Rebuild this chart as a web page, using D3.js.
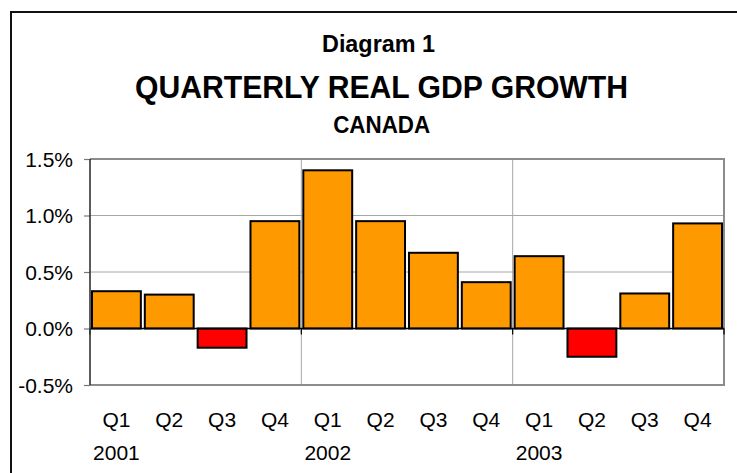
<!DOCTYPE html>
<html>
<head>
<meta charset="utf-8">
<script src="https://cdn.jsdelivr.net/npm/d3@7"></script>
<style>
  html, body { margin: 0; padding: 0; background: #fff; }
  svg { display: block; font-family: "Liberation Sans", Arial, sans-serif; }
</style>
</head>
<body>
<svg id="chart" width="737" height="473"></svg>
<script>
// ---- data ----
const quarters = ["Q1","Q2","Q3","Q4","Q1","Q2","Q3","Q4","Q1","Q2","Q3","Q4"];
const years = ["2001","2002","2003"];
const growth = [0.33, 0.30, -0.17, 0.95, 1.40, 0.95, 0.67, 0.41, 0.64, -0.25, 0.31, 0.93];
const yTicks = [-0.5, 0, 0.5, 1.0, 1.5];
const titleLines = ["Diagram 1", "QUARTERLY REAL GDP GROWTH", "CANADA"];

const svg = d3.select("#chart");
const plot = { left: 90, right: 724, top: 159, bottom: 385 };

// outer frame
svg.append("rect")
  .attr("x", 11).attr("y", 12).attr("width", 760).attr("height", 490)
  .attr("fill", "none").attr("stroke", "#111").attr("stroke-width", 2);

// titles
svg.append("text").attr("x", 378.5).attr("y", 51.7)
  .attr("text-anchor", "middle").attr("font-weight", "bold").attr("font-size", 23)
  .attr("textLength", 113).attr("lengthAdjust", "spacingAndGlyphs")
  .text(titleLines[0]);
svg.append("text").attr("x", 381.5).attr("y", 97.7)
  .attr("text-anchor", "middle").attr("font-weight", "bold").attr("font-size", 31)
  .attr("textLength", 493).attr("lengthAdjust", "spacingAndGlyphs")
  .text(titleLines[1]);
svg.append("text").attr("x", 381.7).attr("y", 133.3)
  .attr("text-anchor", "middle").attr("font-weight", "bold").attr("font-size", 23)
  .attr("textLength", 97).attr("lengthAdjust", "spacingAndGlyphs")
  .text(titleLines[2]);

// scales
const idx = growth.map((d, i) => i);
const x = d3.scaleBand().domain(idx).range([plot.left, plot.right])
  .paddingInner(0.075).paddingOuter(0.0375);
const y = d3.scaleLinear().domain([-0.5, 1.5]).range([plot.bottom, plot.top]);

// horizontal gridlines
svg.append("g").selectAll("line").data(yTicks.filter(v => v !== 0 && v !== -0.5 && v !== 1.5))
  .join("line")
  .attr("x1", plot.left).attr("x2", plot.right)
  .attr("y1", d => y(d)).attr("y2", d => y(d))
  .attr("stroke", "#a6a6a6").attr("stroke-width", 1);

// vertical year separators
const yearBounds = [4, 8];
svg.append("g").selectAll("line").data(yearBounds).join("line")
  .attr("x1", d => x(d) - x.step() * x.paddingInner() / 2)
  .attr("x2", d => x(d) - x.step() * x.paddingInner() / 2)
  .attr("y1", plot.top).attr("y2", plot.bottom)
  .attr("stroke", "#a6a6a6").attr("stroke-width", 1);

// plot border (top, right, bottom)
svg.append("path")
  .attr("d", `M${plot.left},${plot.top}H${plot.right}V${plot.bottom}H${plot.left}`)
  .attr("fill", "none").attr("stroke", "#8c8c8c").attr("stroke-width", 2);

// bars
svg.append("g").selectAll("rect").data(growth).join("rect")
  .attr("x", (d, i) => x(i))
  .attr("width", x.bandwidth())
  .attr("y", d => y(Math.max(0, d)))
  .attr("height", d => Math.abs(y(d) - y(0)))
  .attr("fill", d => d < 0 ? "#ff0000" : "#ff9900")
  .attr("stroke", "#000").attr("stroke-width", 2);

// zero axis line
svg.append("line")
  .attr("x1", plot.left).attr("x2", plot.right)
  .attr("y1", y(0)).attr("y2", y(0))
  .attr("stroke", "#000").attr("stroke-width", 1.5);

// category ticks at year boundaries (down from zero line)
const tickXs = [plot.left, ...yearBounds.map(d => x(d) - x.step() * x.paddingInner() / 2), plot.right];
svg.append("g").selectAll("line").data(tickXs).join("line")
  .attr("x1", d => d).attr("x2", d => d)
  .attr("y1", y(0)).attr("y2", y(0) + 6)
  .attr("stroke", "#000").attr("stroke-width", 1.2);

// y axis
const yAxis = d3.axisLeft(y).tickValues(yTicks).tickSize(6).tickPadding(11)
  .tickFormat(d => d.toFixed(1) + "%");
const gy = svg.append("g").attr("transform", `translate(${plot.left},0)`).call(yAxis);
gy.select(".domain").remove();
gy.selectAll(".tick line").attr("stroke", "#777").attr("stroke-width", 1.2);
gy.selectAll(".tick text").attr("font-size", 21).attr("fill", "#000")
  .attr("font-family", "'Liberation Sans', Arial, sans-serif").attr("dy", "0.35em");
svg.append("line")
  .attr("x1", plot.left).attr("x2", plot.left)
  .attr("y1", plot.top).attr("y2", plot.bottom)
  .attr("stroke", "#333").attr("stroke-width", 1.6);

// x labels
svg.append("g").selectAll("text").data(quarters).join("text")
  .attr("x", (d, i) => x(i) + x.bandwidth() / 2)
  .attr("y", 427)
  .attr("text-anchor", "middle").attr("font-size", 21)
  .text(d => d);
svg.append("g").selectAll("text").data(years).join("text")
  .attr("x", (d, i) => x(i * 4) + x.bandwidth() / 2)
  .attr("y", 460)
  .attr("text-anchor", "middle").attr("font-size", 21)
  .text(d => d);
</script>
</body>
</html>
